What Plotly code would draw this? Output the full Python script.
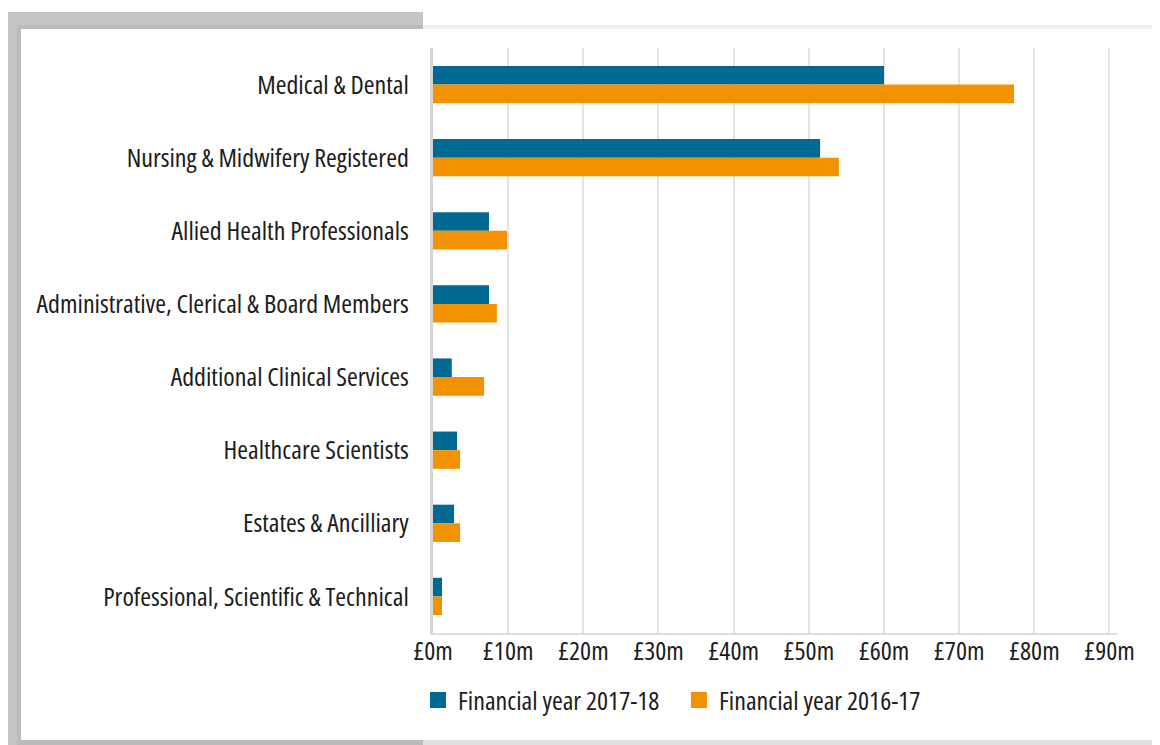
import plotly.graph_objects as go

categories = [
    "Medical & Dental",
    "Nursing & Midwifery Registered",
    "Allied Health Professionals",
    "Administrative, Clerical & Board Members",
    "Additional Clinical Services",
    "Healthcare Scientists",
    "Estates & Ancilliary",
    "Professional, Scientific & Technical",
]
fy_2017_18 = [60.0, 51.5, 7.45, 7.45, 2.5, 3.2, 2.8, 1.2]
fy_2016_17 = [77.3, 54.0, 9.85, 8.5, 6.8, 3.6, 3.6, 1.2]
series_names = ["Financial year 2017-18", "Financial year 2016-17"]
tick_values = [0, 10, 20, 30, 40, 50, 60, 70, 80, 90]
tick_labels = ["£0m", "£10m", "£20m", "£30m", "£40m", "£50m", "£60m", "£70m", "£80m", "£90m"]

BLUE = "#006a93"
ORANGE = "#f29200"
FONT = "Open Sans, Roboto, Liberation Sans, sans-serif"
FS = 26
TXT = "#1c1c1c"

OFF = 8  # page body margin
W, H = 1160, 745
ML, MT = 433 - OFF, 48 - OFF
PW, PH = 684, 585
MR, MB = W - ML - PW, H - MT - PH


def px(x):
    return (x - OFF - ML) / PW


def py(y):
    return (MT + PH - (y - OFF)) / PH


fig = go.Figure()
for name, vals, col in [(series_names[0], fy_2017_18, BLUE), (series_names[1], fy_2016_17, ORANGE)]:
    fig.add_trace(go.Bar(y=categories, x=vals, orientation="h", name=name,
                         marker=dict(color=col, line=dict(width=0)), showlegend=False,
                         hoverinfo="x+y"))
for name, col in [(series_names[0], BLUE), (series_names[1], ORANGE)]:
    fig.add_trace(go.Scatter(x=[None], y=[None], mode="markers", name=name,
                             marker=dict(symbol="square", size=18, color=col), showlegend=True))

shapes = [
    dict(type="rect", xref="paper", yref="paper", x0=px(6), x1=px(423), y0=py(770), y1=py(12),
         fillcolor="#c4c4c4", line=dict(width=0), layer="below"),
    dict(type="rect", xref="paper", yref="paper", x0=px(17), x1=px(423), y0=py(770), y1=py(25),
         fillcolor="#bbbbbb", line=dict(width=0), layer="below"),
    dict(type="rect", xref="paper", yref="paper", x0=px(423), x1=px(1175), y0=py(30), y1=py(25),
         fillcolor="#f0f0f0", line=dict(width=0), layer="below"),
    dict(type="rect", xref="paper", yref="paper", x0=px(423), x1=px(1175), y0=py(770), y1=py(739),
         fillcolor="#e2e2e2", line=dict(width=0), layer="below"),
    dict(type="rect", xref="paper", yref="paper", x0=px(21), x1=px(1175), y0=py(740), y1=py(29),
         fillcolor="#ffffff", line=dict(width=0), layer="below"),
]

fig.update_layout(
    width=W, height=H,
    margin=dict(l=ML, r=MR, t=MT, b=MB, pad=0, autoexpand=False),
    paper_bgcolor="#ffffff",
    plot_bgcolor="rgba(0,0,0,0)",
    barmode="group",
    bargap=0.49,
    bargroupgap=0,
    font=dict(family=FONT, size=FS, color=TXT),
    shapes=shapes,
    showlegend=True,
    legend=dict(orientation="h", x=px(418), y=py(700), xanchor="left", yanchor="middle",
                font=dict(family=FONT, size=FS, color=TXT), bgcolor="rgba(0,0,0,0)",
                entrywidth=216, entrywidthmode="pixels", itemsizing="trace"),
    xaxis=dict(range=[0, 91], tickvals=tick_values, ticktext=tick_labels, automargin=False,
               showgrid=True, gridcolor="#e3e3e3", gridwidth=1.5,
               zeroline=False, showline=True, linecolor="#dcdcdc", linewidth=2,
               ticks="", ticklabelstandoff=-6, tickfont=dict(family=FONT, size=FS, color=TXT),
               fixedrange=True),
    yaxis=dict(autorange="reversed", showgrid=False, zeroline=False, showline=True, automargin=False,
               linecolor="#d4d4d4", linewidth=3, ticks="", ticklabelstandoff=16,
               tickfont=dict(family=FONT, size=FS, color=TXT), fixedrange=True),
)

js = """
var gd = document.getElementById('{plot_id}');
function condense(){ gd.querySelectorAll('svg text').forEach(function(e){ e.style.fontStretch = '75%'; }); }
condense();
gd.on('plotly_afterplot', condense);
"""
fig.write_html("out.html", post_script=js)
